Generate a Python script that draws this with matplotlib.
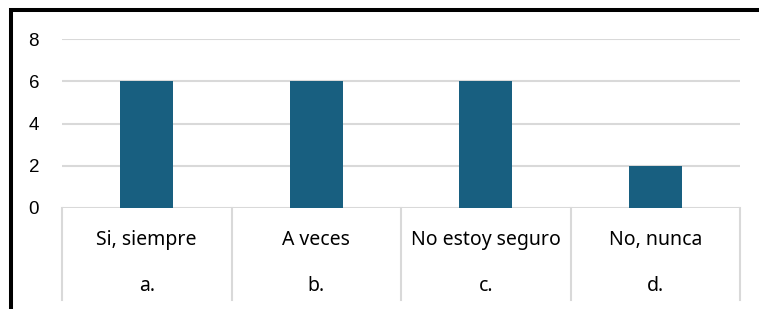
import matplotlib.pyplot as plt
import matplotlib.transforms as mtransforms
from matplotlib.patches import Rectangle

# Chart data
categories = ['Si, siempre', 'A veces', 'No estoy seguro', 'No, nunca']
letters = ['a.', 'b.', 'c.', 'd.']
values = [6, 6, 6, 2]
y_ticks = [0, 2, 4, 6, 8]

W, H = 759, 309
fig = plt.figure(figsize=(W / 100, H / 100), dpi=100)

# plot area in pixels: x 62..740, y 39..208 (from top)
left, right, top, bottom = 62, 740, 39, 208
ax = fig.add_axes([left / W, 1 - bottom / H, (right - left) / W, (bottom - top) / H])

x = list(range(len(categories)))
ax.bar(x, values, width=0.31, color='#185f80', zorder=3)
ax.set_xlim(-0.5, len(categories) - 0.5)
ax.set_ylim(0, 8)
ax.set_yticks(y_ticks)
ax.set_yticklabels([str(t) for t in y_ticks], fontsize=13.5, family='Liberation Sans')
ax.tick_params(axis='y', length=0, pad=16.5)
ax.set_xticks([])
for s in ax.spines.values():
    s.set_visible(False)
ax.yaxis.grid(True, color='#d9d9d9', linewidth=1.5, zorder=0)
ax.set_axisbelow(True)

# category table below the axis
trans = mtransforms.blended_transform_factory(ax.transData, ax.transAxes)
h_ax = bottom - top
for b in [i - 0.5 for i in range(len(categories) + 1)]:
    ax.plot([b, b], [0, -92 / h_ax], transform=trans, color='#d9d9d9',
            linewidth=1.5, clip_on=False)
for i, (c, l) in enumerate(zip(categories, letters)):
    ax.text(i, -32 / h_ax, c, transform=trans, ha='center', va='center',
            fontsize=14, family='Noto Sans')
    ax.text(i, -78 / h_ax, l, transform=trans, ha='center', va='center',
            fontsize=14, family='Noto Sans')

# outer black frame (right and bottom edges are off the image)
fig.patches.append(Rectangle((11.3 / W, -0.2), 1.2, 1.2 - 10.3 / H,
                             transform=fig.transFigure, fill=False,
                             edgecolor='black', linewidth=2.9))

fig.savefig('out.png', dpi=100)
